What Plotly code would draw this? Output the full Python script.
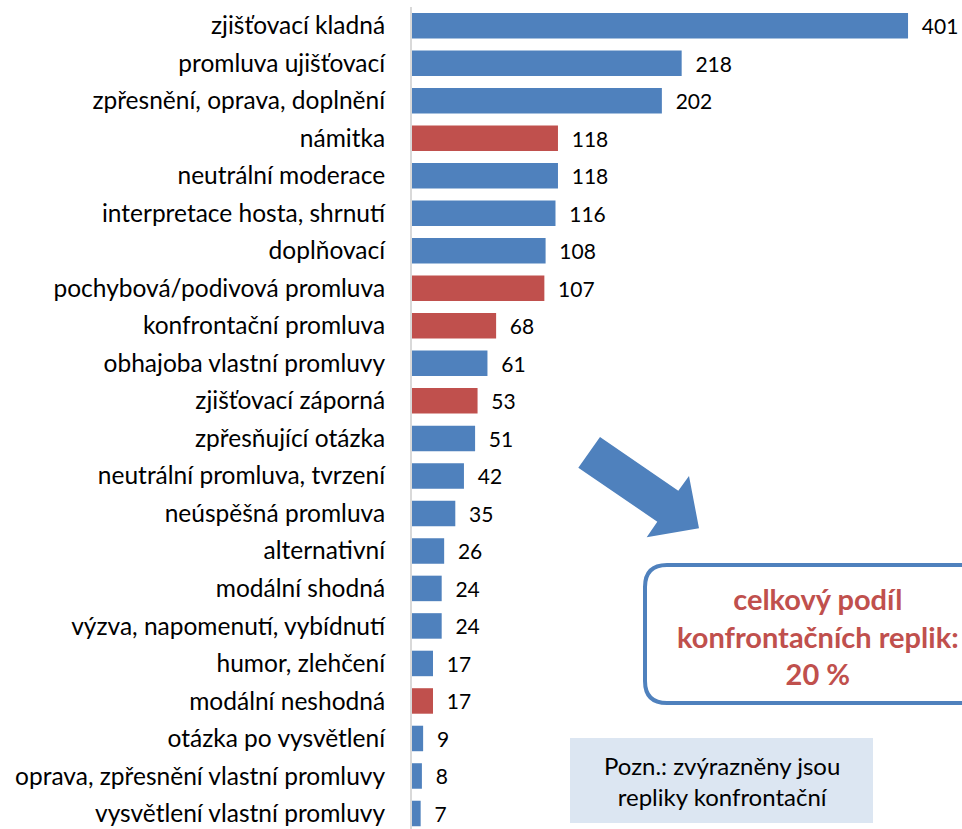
import plotly.graph_objects as go

categories = [
    "zjišťovací kladná", "promluva ujišťovací", "zpřesnění, oprava, doplnění",
    "námitka", "neutrální moderace", "interpretace hosta, shrnutí", "doplňovací",
    "pochybová/podivová promluva", "konfrontační promluva", "obhajoba vlastní promluvy",
    "zjišťovací záporná", "zpřesňující otázka", "neutrální promluva, tvrzení",
    "neúspěšná promluva", "alternativní", "modální shodná",
    "výzva, napomenutí, vybídnutí", "humor, zlehčení", "modální neshodná",
    "otázka po vysvětlení", "oprava, zpřesnění vlastní promluvy", "vysvětlení vlastní promluvy",
]
values = [401, 218, 202, 118, 118, 116, 108, 107, 68, 61, 53, 51, 42, 35, 26, 24, 24, 17, 17, 9, 8, 7]
confrontational = [
    "námitka", "pochybová/podivová promluva", "konfrontační promluva",
    "zjišťovací záporná", "modální neshodná",
]

BLUE = "#4F81BD"
RED = "#C0504D"
colors = [RED if c in confrontational else BLUE for c in categories]

W, H = 962, 829
ML, MR, MT, MB = 412, 0, 7, 0
FONT = "Lato"

fig = go.Figure(go.Bar(
    x=values, y=categories, orientation="h",
    marker=dict(color=colors, line=dict(width=0)),
    text=values, texttemplate="  %{x}", textposition="outside",
    textfont=dict(family=FONT, size=21, color="#000000"),
    cliponaxis=False,
))

row_px = 37.5
first_center = 26
bottom_idx = (H - MB - first_center) / row_px

fig.update_layout(
    width=W, height=H,
    margin=dict(l=ML, r=MR, t=MT, b=MB, pad=0),
    paper_bgcolor="white", plot_bgcolor="white",
    bargap=0.32,
    showlegend=False,
    font=dict(family=FONT, size=24, color="#000000"),
    xaxis=dict(range=[0, (W - ML - MR) / 1.237], showgrid=False, zeroline=False,
               showticklabels=False, showline=False, fixedrange=True),
    yaxis=dict(type="category", categoryorder="array", categoryarray=categories,
               autorange=False, range=[bottom_idx, -0.5],
               showgrid=False, zeroline=False,
               showline=True, linecolor="#D9D9D9", linewidth=2,
               ticks="outside", ticklen=20, tickcolor="rgba(0,0,0,0)",
               tickfont=dict(family=FONT, size=24.5, color="#000000")),
)

pw, ph = W - ML - MR, H - MT - MB

def px(x, y):
    return (x - ML) / pw, (H - MB - y) / ph

def P(x, y):
    X, Y = px(x, y)
    return f"{X:.5f},{Y:.5f}"

# arrow
arrow_pts = [(600, 437), (678.3, 490.7), (689, 476), (699, 528.3),
             (646.7, 537.3), (657.3, 521.7), (578.3, 467.7)]
path = " ".join(("M" if i == 0 else "L") + P(x, y) for i, (x, y) in enumerate(arrow_pts)) + " Z"
fig.add_shape(type="path", path=path, xref="paper", yref="paper",
              fillcolor=BLUE, line=dict(width=0), layer="above")

# rounded box
def rounded(x0, y0, x1, y1, r):
    s = f"M{P(x0 + r, y0)} L{P(x1 - r, y0)} Q{P(x1, y0)} {P(x1, y0 + r)} "
    s += f"L{P(x1, y1 - r)} Q{P(x1, y1)} {P(x1 - r, y1)} "
    s += f"L{P(x0 + r, y1)} Q{P(x0, y1)} {P(x0, y1 - r)} "
    s += f"L{P(x0, y0 + r)} Q{P(x0, y0)} {P(x0 + r, y0)} Z"
    return s

fig.add_shape(type="path", path=rounded(645, 565, 993, 703, 22),
              xref="paper", yref="paper", fillcolor="white",
              line=dict(color=BLUE, width=4), layer="above")

cx, cy = px(818, 636)
fig.add_annotation(x=cx, y=cy, xref="paper", yref="paper",
                   text="<b>celkový podíl<br>konfrontačních replik:<br>20 %</b>",
                   showarrow=False, align="center",
                   font=dict(family=FONT, size=29, color=RED),
                   xanchor="center", yanchor="middle")

# note box
nx0, ny0 = px(570, 738)
nx1, ny1 = px(873, 823)
fig.add_shape(type="rect", x0=nx0, y0=ny1, x1=nx1, y1=ny0, xref="paper", yref="paper",
              fillcolor="#DCE6F2", line=dict(width=0), layer="above")
tx, ty = px(721.5, 781)
fig.add_annotation(x=tx, y=ty, xref="paper", yref="paper",
                   text="Pozn.: zvýrazněny jsou<br>repliky konfrontační",
                   showarrow=False, align="center",
                   font=dict(family=FONT, size=24, color="#000000"),
                   xanchor="center", yanchor="middle")

fig.write_html("out.html", config={"displayModeBar": False},
               post_script="document.body.style.margin='0';document.body.style.padding='0';")
